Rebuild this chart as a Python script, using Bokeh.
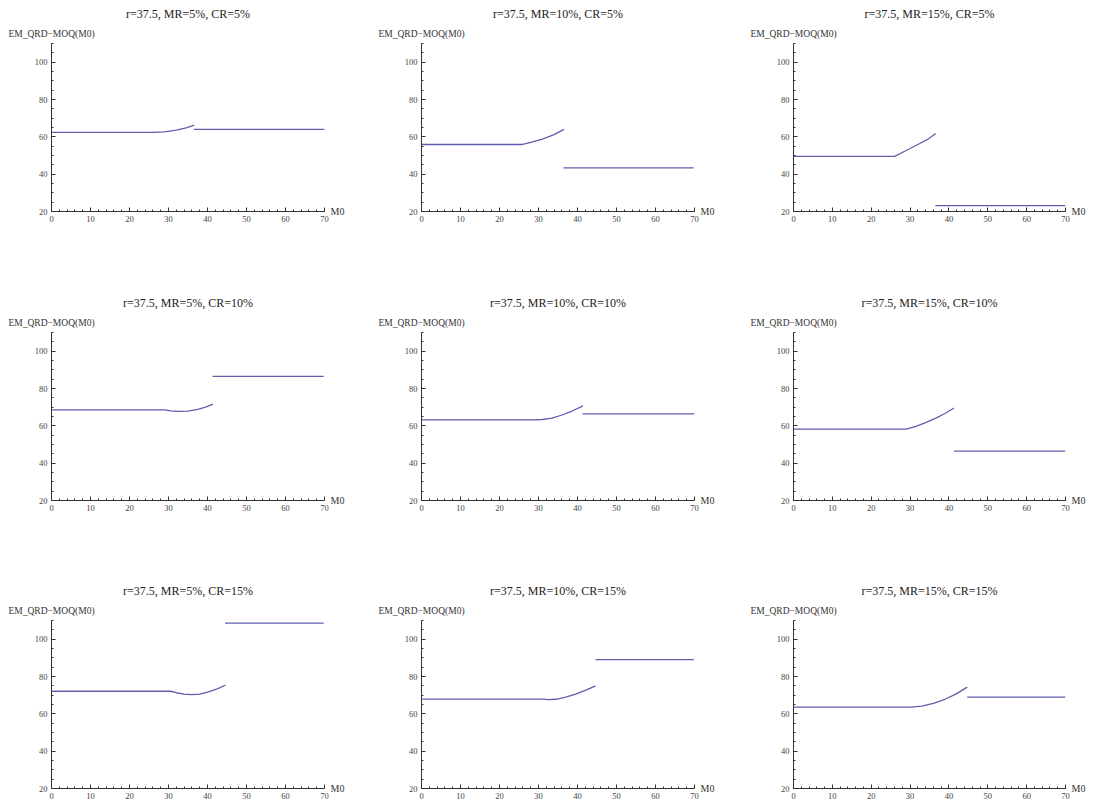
from bokeh.plotting import figure
from bokeh.layouts import column, row
from bokeh.models import SingleIntervalTicker, FixedTicker, Range1d, LinearAxis
from bokeh.embed import file_html
from bokeh.resources import INLINE

# ---------------- data ----------------
r_value = "37.5"
mr_levels = ["5%", "10%", "15%"]          # columns
cr_levels = ["5%", "10%", "15%"]          # rows
y_axis_label = "EM_QRD\u2212MOQ(M0)"
x_axis_label = "M0"
x_min, x_max = 0, 70
y_min, y_max = 20, 110

# panels in row-major order: (MR5,CR5) (MR10,CR5) (MR15,CR5) / CR10 row / CR15 row
low_x = [
    [0, 26.2, 29, 32, 34.5, 36.5],
    [0, 25.9, 28, 31, 34, 36.4],
    [0, 26.0, 29, 32, 34.5, 36.5],
    [0, 29.2, 30.5, 32.5, 35, 37.5, 39.5, 41.3],
    [0, 28.8, 31, 33.5, 36, 38.5, 41.3],
    [0, 29.0, 31.5, 34, 36.5, 39, 41.2],
    [0, 30.5, 32, 34, 36, 38, 40, 42.5, 44.5],
    [0, 31.0, 32.5, 34.5, 37, 39.5, 42, 44.5],
    [0, 30.3, 33, 36, 39, 42, 44.6],
]
low_y = [
    [62.4, 62.4, 62.7, 63.6, 64.8, 66.2],
    [55.9, 55.9, 57.0, 58.8, 61.2, 63.9],
    [49.5, 49.5, 52.7, 55.9, 58.6, 61.6],
    [68.5, 68.5, 68.0, 67.7, 67.9, 68.8, 70.0, 71.5],
    [63.2, 63.2, 63.4, 64.1, 65.8, 67.8, 70.6],
    [58.2, 58.2, 59.7, 61.7, 64.0, 66.6, 69.4],
    [72.1, 72.1, 71.3, 70.6, 70.3, 70.6, 71.6, 73.4, 75.3],
    [67.9, 67.9, 67.6, 67.8, 68.9, 70.6, 72.6, 74.8],
    [63.6, 63.6, 64.1, 65.6, 67.8, 70.8, 74.2],
]
high_start = [36.5, 36.4, 36.5, 41.3, 41.3, 41.3, 44.5, 44.6, 44.7]
high_end = [70, 69.8, 70, 69.8, 70, 70, 69.8, 69.8, 70]
high_level = [64.0, 43.4, 23.2, 86.5, 66.4, 46.4, 108.6, 89.0, 68.9]

# ---------------- styling ----------------
SERIF = "Liberation Serif"
LINE_COLOR = "#5f5fae"
col_widths = [371, 372, 354]
col_left = [51, 50, 50]
row_heights = [289, 287, 227]
row_top = [43, 43, 44]
frame_h = 168


def text_axis(axis, tick, text, size, standoff, color):
    """An axis used only to carry one piece of text at a data position."""
    axis.ticker = FixedTicker(ticks=[tick], minor_ticks=[])
    axis.major_label_overrides = {tick: text}
    axis.axis_line_color = None
    axis.major_tick_line_color = None
    axis.minor_tick_line_color = None
    axis.major_tick_in = 0
    axis.major_tick_out = 0
    axis.major_label_standoff = standoff
    axis.major_label_text_font = SERIF
    axis.major_label_text_font_size = size
    axis.major_label_text_color = color
    return axis


def make_panel(i):
    r, c = divmod(i, 3)
    W, H = col_widths[c], row_heights[r]
    fw = 273 if c < 2 else 272
    left = col_left[c]
    right = W - left - fw
    top = row_top[r]
    bottom = H - top - frame_h
    p = figure(width=W, height=H, title=None,
               x_range=Range1d(x_min, x_max), y_range=Range1d(y_min, y_max),
               output_backend="svg", toolbar_location=None,
               min_border_left=left, min_border_right=right,
               min_border_top=top, min_border_bottom=bottom)
    p.outline_line_color = None
    p.xgrid.visible = False
    p.ygrid.visible = False
    p.background_fill_color = "white"
    p.border_fill_color = "white"

    p.xaxis.ticker = SingleIntervalTicker(interval=10, num_minor_ticks=5)
    p.yaxis.ticker = SingleIntervalTicker(interval=20, num_minor_ticks=4)
    for ax in (p.xaxis, p.yaxis):
        ax.axis_line_color = "#333333"
        ax.axis_line_width = 1
        ax.major_tick_in = 4
        ax.major_tick_out = 0
        ax.minor_tick_in = 2
        ax.minor_tick_out = 0
        ax.major_tick_line_color = "#333333"
        ax.minor_tick_line_color = "#333333"
        ax.major_label_text_font = SERIF
        ax.major_label_text_font_size = "8.5px"
        ax.major_label_text_color = "#444444"
    p.xaxis.major_label_standoff = 4
    p.yaxis.major_label_standoff = 4

    p.line(low_x[i], low_y[i], line_color=LINE_COLOR, line_width=1.3,
           line_join="round", line_cap="round")
    p.line([high_start[i], high_end[i]], [high_level[i], high_level[i]],
           line_color=LINE_COLOR, line_width=1.3)

    # y-axis label above the y axis (centred on x = 0), then the panel title
    title = f"r={r_value}, MR={mr_levels[c]}, CR={cr_levels[r]}"
    p.add_layout(text_axis(LinearAxis(), x_min, y_axis_label, "9.5px", 5, "#333333"), "above")
    p.add_layout(text_axis(LinearAxis(), (x_min + x_max) / 2, title, "12px", 5, "#222222"), "above")
    # x-axis label to the right of the x axis end
    p.add_layout(text_axis(LinearAxis(), y_min, x_axis_label, "10px", 6, "#333333"), "right")
    return p


panels = [make_panel(i) for i in range(9)]
layout = column(
    row(panels[0], panels[1], panels[2], spacing=0),
    row(panels[3], panels[4], panels[5], spacing=0),
    row(panels[6], panels[7], panels[8], spacing=0),
    spacing=0,
)

open("out.html", "w").write(file_html(layout, INLINE))
